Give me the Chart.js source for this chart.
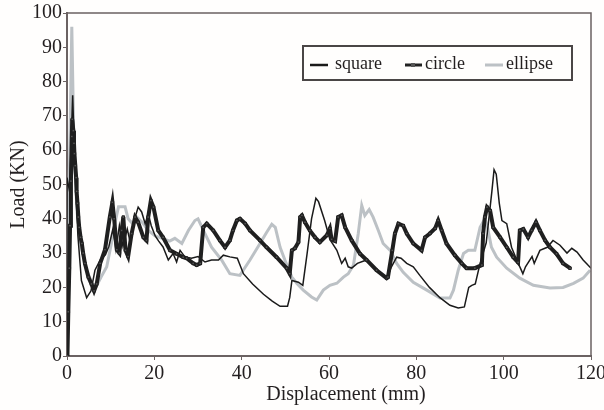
<!DOCTYPE html>
<html>
<head>
<meta charset="utf-8">
<script src="https://cdn.jsdelivr.net/npm/chart.js@4/dist/chart.umd.min.js"></script>
<style>
  html, body { margin: 0; padding: 0; background: #fffefd; }
  #wrap { width: 604px; height: 410px; }
</style>
</head>
<body>
<div id="wrap"><canvas id="loadChart" width="604" height="410"></canvas></div>
<script>
// displacement (mm) / load (KN)
const squareX = [0, 0, 0.6, 1.3, 1.8, 2.5, 3.3, 4.5, 5.5, 6.4, 7.6, 8.8, 9.6, 10.5, 11.2, 12, 12.8, 13.8, 14.5, 15.5,
  16.3, 17.1, 17.9, 18.6, 19.3, 20.2, 21, 22, 23.2, 24.3, 25.1, 25.9, 27, 28.5, 30, 31.6, 33.1, 34.7, 35.8, 37.3,
  39, 40.4, 42.5, 45, 47, 48.8, 50.5, 51, 51.5, 53, 54, 55, 56, 57, 57.6, 59, 60.2, 61.8, 62.9, 63.7,
  64.4, 65.2, 66.5, 68.6, 70.9, 73.2, 74.3, 75.5, 76.5, 77.8, 79.3, 80.8, 83, 85.4, 87.7, 89.6, 91, 92, 92.7, 93.5,
  94.6, 96, 97.3, 97.8, 98.3, 99, 99.6, 100.7, 101.8, 103, 104.4, 105, 106.5, 107, 108.3, 110, 111.3, 112.9, 114.5, 115.6,
  116.8, 118.2, 119.3, 120];
const squareY = [0, 52, 48, 76, 55, 35, 22, 17, 19, 25, 28, 29.5, 32, 37, 31, 38, 32, 37, 33, 40,
  43.4, 42, 38.6, 41.5, 38, 35, 33.5, 31.8, 28, 29.9, 27.4, 30.8, 28.9, 28.5, 29, 27.4, 28, 28, 29.4, 28.9,
  28.5, 24, 21, 18, 16, 14.5, 14.5, 17, 22, 21.5, 20.6, 30, 40, 46, 45, 39.5, 34, 30.8, 27, 28.5,
  26, 25.6, 27, 28, 25, 22.5, 26, 28.8, 28.5, 27, 26, 23.5, 20, 17, 14.8, 14, 14.3, 20, 20.6, 21,
  27, 33, 48, 54.3, 53, 44.5, 39.5, 38.6, 31.7, 28, 24, 26, 29, 27, 30.8, 31.7, 33.7, 32.3, 30, 31.4,
  30.3, 28, 26.5, 25.6];

const circleX = [0.1, 0.3, 0.53, 0.7, 0.9, 1.1, 1.2, 1.45, 1.6, 1.7, 1.9, 2.1, 2.2, 2.4, 2.6, 2.8, 3.1, 3.4, 3.7, 4.1,
  4.9, 5.6, 6.2, 6.8, 7.6, 8.7, 9.8, 10.4, 10.8, 11.4, 12, 12.5, 12.9, 13.4, 14, 14.8, 15.6, 16.3, 17.5, 18.2,
  18.6, 19.2, 19.8, 20.9, 22, 23.6, 25.1, 26.6, 27.4, 28.9, 29.7, 30.5, 31.2, 32, 33.5, 35, 36.2, 37.3, 38, 38.9,
  39.6, 40.8, 41.9, 44.2, 45.7, 48, 50.3, 51, 51.5, 52.2, 53, 53.4, 53.8, 54.5, 55.6, 56.8, 57.9, 59.5, 60.2, 60.6,
  61.4, 62.1, 62.9, 63.7, 65.2, 67.1, 68.6, 70.9, 73.2, 73.5, 74.5, 75.1, 75.9, 77, 77.8, 79.3, 81.2, 82, 83.1, 84.3,
  85, 85.8, 86.9, 88.8, 90.4, 91.5, 93.4, 95, 95.3, 95.7, 96.2, 96.9, 97.6, 99.2, 100.7, 102.2, 103.3, 103.7, 104.5, 105.6,
  106.4, 107.4, 108.3, 109.5, 110.6, 112.1, 113.6, 115.2];
const circleY = [0, 12.9, 25.6, 38, 51, 64, 69, 65.7, 62, 59, 55.5, 52, 48, 44.5, 40.5, 37.5, 34.6, 32.8, 30, 27,
  23, 21, 19, 21, 27, 31, 40.5, 44.8, 40, 31, 30, 36.6, 40.5, 30.8, 29, 35.7, 40.5, 39, 34.6, 33.7,
  40.5, 45.3, 43.4, 36.6, 34.6, 30.8, 29.8, 28.8, 28.5, 27, 26.5, 27, 37.5, 38.6, 36.6, 33.7, 31.7, 33.7, 36.6, 39.5,
  40, 38.6, 36.6, 33.7, 31.7, 28.8, 25.6, 24, 30.8, 31.4, 33.2, 40.5, 41, 39, 36.6, 34.6, 33.2, 35.2, 37.2, 34,
  33.5, 40.5, 41, 37.5, 33.7, 29.8, 28, 25, 22.7, 23, 30.8, 35.7, 38.6, 38, 35.7, 32.8, 30.8, 34.6, 35.7, 37.2,
  39.5, 36.6, 32.8, 29.4, 27, 25.6, 25.6, 26.5, 35.7, 40.5, 43.4, 42.4, 37.5, 34.6, 31.7, 28.8, 27.3, 36.6, 37, 34.6,
  36.6, 39, 36.6, 33.7, 31.7, 29.8, 27, 25.6];

const ellipseX = [0, 0.5, 1.1, 1.6, 2.3, 3.2, 4.5, 5.8, 6.8, 7.8, 9.1, 10.2, 11.2, 11.8, 13.3, 14, 15, 16, 17.2, 18.6,
  20.2, 22, 23.5, 24.7, 26.3, 27.8, 29.3, 30, 31.6, 33.1, 35.4, 37.3, 39.6, 41.9, 44.2, 45.7, 46.9, 47.7, 48.8, 49.9,
  51.5, 52.6, 54.1, 56, 57.2, 58.7, 60.2, 61.8, 63.3, 64.4, 65.6, 66.7, 67.5, 68.2, 69.2, 70.1, 71.3, 72.4, 74, 75.5,
  77, 79.3, 82.4, 85.4, 87.7, 88.5, 89.6, 90.8, 91.9, 93.4, 94.6, 95.7, 96.3, 97.2, 98.4, 100.7, 103.7, 106.8, 110.6, 113.6,
  116, 118.2, 119.8];
const ellipseY = [0, 50, 96, 60, 42, 32, 25, 21, 20.5, 23, 26, 33, 40, 43.5, 43.5, 40, 38.6, 40.5, 39, 36.6,
  35, 34.2, 33.5, 34.3, 32.8, 36.6, 39.5, 40, 35.7, 31.7, 28, 24, 23.5, 28, 32.8, 36, 38.4, 37.5, 31.7, 28,
  23, 21.2, 19.2, 17.2, 16.3, 19.2, 20.6, 21.2, 23, 24, 26.5, 35.7, 43.9, 41, 42.7, 40.5, 36.6, 32.8, 30.8, 27,
  24.4, 21.5, 19.2, 16.9, 16.9, 19.2, 25, 29.9, 30.8, 30.8, 37.5, 40, 37.5, 31.7, 28.8, 25.6, 22.7, 20.6, 19.8, 20,
  21.2, 22.7, 25];

const xTicks = [0, 20, 40, 60, 80, 100, 120];
const yTicks = [0, 10, 20, 30, 40, 50, 60, 70, 80, 90, 100];
const seriesNames = ['square', 'circle', 'ellipse'];
const xTitle = 'Displacement (mm)';

const toPoints = (xs, ys) => xs.map((x, i) => ({ x: x, y: ys[i] }));

const AXIS = '#6b6262';
const INK = '#231f20';
const SERIF = '"Liberation Serif", "DejaVu Serif", serif';

// box round the plot, the x title and the framed legend in the upper right
const framePlugin = {
    id: 'frame',
    afterDraw(chart) {
        const ctx = chart.ctx;
        const a = chart.chartArea;
        ctx.save();
        ctx.strokeStyle = AXIS;
        ctx.lineWidth = 1.5;
        ctx.beginPath();
        ctx.moveTo(a.left, a.top);
        ctx.lineTo(a.right, a.top);
        ctx.lineTo(a.right, a.bottom);
        ctx.stroke();

        ctx.font = '20px ' + SERIF;
        ctx.fillStyle = INK;
        ctx.textAlign = 'center';
        ctx.textBaseline = 'alphabetic';
        ctx.fillText(xTitle, (a.left + a.right) / 2 + 17, a.bottom + 44);

        const lx = a.right - 288;
        const ly = a.top + 33;
        ctx.lineWidth = 2;
        ctx.strokeStyle = '#4a4646';
        ctx.strokeRect(lx, ly, 269, 34);

        const my = ly + 19;
        ctx.font = '18px ' + SERIF;
        ctx.textAlign = 'left';
        ctx.textBaseline = 'middle';

        ctx.lineWidth = 2.5;
        ctx.strokeStyle = '#1a1a1a';
        ctx.beginPath(); ctx.moveTo(lx + 7, my); ctx.lineTo(lx + 25, my); ctx.stroke();
        ctx.fillText(seriesNames[0], lx + 32, my - 1);

        ctx.lineWidth = 3;
        ctx.strokeStyle = '#222';
        ctx.beginPath(); ctx.moveTo(lx + 102, my); ctx.lineTo(lx + 119, my); ctx.stroke();
        ctx.fillStyle = '#555';
        ctx.fillRect(lx + 108, my - 2, 4, 4);
        ctx.fillStyle = INK;
        ctx.fillText(seriesNames[1], lx + 122, my - 1);

        ctx.strokeStyle = '#bcc1c5';
        ctx.beginPath(); ctx.moveTo(lx + 182, my); ctx.lineTo(lx + 200, my); ctx.stroke();
        ctx.fillText(seriesNames[2], lx + 203, my - 1);
        ctx.restore();
    }
};

const ctx = document.getElementById('loadChart').getContext('2d');
new Chart(ctx, {
    type: 'line',
    data: {
        datasets: [
            {
                label: seriesNames[0],
                data: toPoints(squareX, squareY),
                borderColor: '#1a1a1a',
                borderWidth: 1.5,
                pointRadius: 0,
                tension: 0,
                order: 2
            },
            {
                label: seriesNames[1],
                data: toPoints(circleX, circleY),
                borderColor: '#1f1f1f',
                borderWidth: 4,
                pointStyle: 'rect',
                pointRadius: 1.8,
                pointBorderWidth: 1,
                pointBorderColor: '#1f1f1f',
                pointBackgroundColor: '#555',
                tension: 0,
                order: 1
            },
            {
                label: seriesNames[2],
                data: toPoints(ellipseX, ellipseY),
                borderColor: '#bcc1c5',
                borderWidth: 3,
                pointRadius: 0,
                tension: 0,
                order: 3
            }
        ]
    },
    options: {
        responsive: false,
        animation: false,
        layout: { padding: { top: 12, right: 13, left: 0, bottom: 0 } },
        plugins: {
            legend: { display: false },
            tooltip: { enabled: false }
        },
        scales: {
            x: {
                type: 'linear',
                min: 0,
                max: 120,
                afterBuildTicks: (s) => { s.ticks = xTicks.map(v => ({ value: v })); },
                afterFit: (s) => { s.height = 54; s.paddingRight = 0; s.paddingLeft = 0; },
                border: { display: true, color: AXIS, width: 2 },
                grid: { drawOnChartArea: false, drawTicks: true, tickLength: 4, color: AXIS },
                ticks: { color: INK, padding: 2, font: { family: SERIF, size: 20 } }
            },
            y: {
                min: 0,
                max: 100,
                afterBuildTicks: (s) => { s.ticks = yTicks.map(v => ({ value: v })); },
                afterFit: (s) => { s.width = 67; },
                border: { display: true, color: AXIS, width: 2 },
                grid: { drawOnChartArea: false, drawTicks: true, tickLength: 4, color: AXIS },
                ticks: { color: INK, padding: 1, font: { family: SERIF, size: 20 } },
                title: {
                    display: true,
                    text: 'Load (KN)',
                    color: INK,
                    padding: { top: 7, bottom: 0 },
                    font: { family: SERIF, size: 20 }
                }
            }
        }
    },
    plugins: [framePlugin]
});
</script>
</body>
</html>
